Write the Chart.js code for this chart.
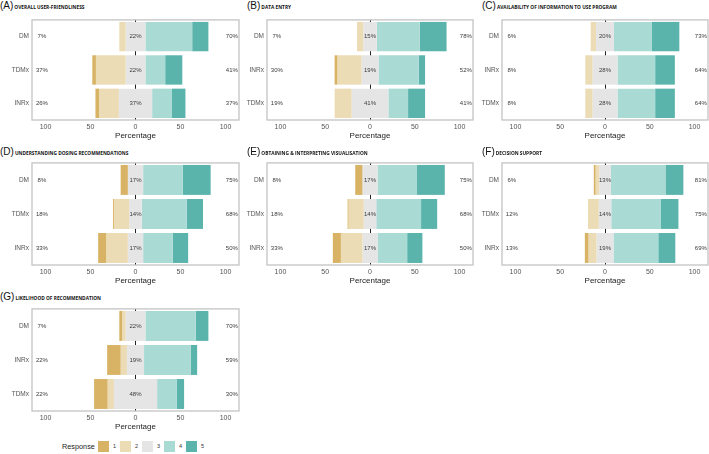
<!DOCTYPE html>
<html>
<head>
<meta charset="utf-8">
<script src="https://cdn.jsdelivr.net/npm/chart.js@4.4.1/dist/chart.umd.min.js"></script>
<style>
  body { margin: 0; background: #fff; }
  #fig { position: relative; width: 709px; height: 454px; background: #fff; overflow: hidden; font-family: "Liberation Sans", Arial, sans-serif; }
  .ttl { position: absolute; white-space: nowrap; line-height: 10px; color: #111; }
  .ttl .let { font-size: 10px; }
  .ttl .sub { font-family: "Open Sans", "Liberation Sans", sans-serif; font-weight: 700; font-size: 4.8px; margin-left: 1px; }
  .pan { position: absolute; }
  #legend { position: absolute; left: 62px; top: 440px; height: 12px; display: flex; align-items: center; font-size: 5.5px; color: #333; }
  #legend .hd { font-size: 7.3px; width: 36px; color: #222; }
  #legend .sw { width: 11px; height: 11px; margin-right: 4px; }
  #legend .lb { width: 7px; }
</style>
</head>
<body>
<div id="fig"></div>
<script>
// panel titles
const letters = ['(A)', '(B)', '(C)', '(D)', '(E)', '(F)', '(G)']
const subtitles = [
    'OVERALL USER-FRIENDLINESS',
    'DATA ENTRY',
    'AVAILABILITY OF INFORMATION TO USE  PROGRAM',
    'UNDERSTANDING DOSING RECOMMENDATIONS',
    'OBTAINING & INTERPRETING VISUALISATION',
    'DECISION SUPPORT',
    'LIKELIHOOD OF RECOMMENDATION'
]

// row labels per panel (top to bottom)
const rowsA = ['DM', 'TDMx', 'INRx']
const rowsB = ['DM', 'INRx', 'TDMx']
const rowsC = ['DM', 'INRx', 'TDMx']
const rowsD = ['DM', 'TDMx', 'INRx']
const rowsE = ['DM', 'TDMx', 'INRx']
const rowsF = ['DM', 'TDMx', 'INRx']
const rowsG = ['DM', 'INRx', 'TDMx']

// percentage of responses 1..5, one inner array per response level
const respA = [[0, 4, 4], [7, 33, 22], [22, 22, 37], [52, 22, 22], [18, 19, 15]]
const respB = [[0, 3, 0], [7, 27, 19], [15, 19, 41], [48, 45, 22], [30, 7, 19]]
const respC = [[0, 0, 0], [6, 8, 8], [20, 28, 28], [42, 42, 42], [31, 22, 22]]
const respD = [[8, 1, 9], [0, 17, 24], [17, 14, 17], [44, 50, 33], [31, 18, 17]]
const respE = [[8, 1, 9], [0, 17, 24], [17, 14, 17], [44, 50, 33], [31, 18, 17]]
const respF = [[2, 0, 4], [4, 12, 9], [13, 14, 19], [61, 55, 50], [20, 20, 19]]
const respG = [[3, 15, 15], [4, 7, 7], [22, 19, 48], [56, 52, 22], [14, 7, 8]]

const levels = ['1', '2', '3', '4', '5']
const xTicks = [-100, -50, 0, 50, 100]

const colors = ['#D8B365', '#ECDCB5', '#E5E5E5', '#A9DAD4', '#5AB4AC']

const panelRows = [rowsA, rowsB, rowsC, rowsD, rowsE, rowsF, rowsG]
const panelResp = [respA, respB, respC, respD, respE, respF, respG]

// layout
const colLeft = [0, 235, 470]
const colWidth = [240, 239, 239]
const titleLeft = [0, 247, 482]
const rowTitleY = [-1, 145, 290]
const rowBoxTop = [14, 157, 303]
const rowBoxH = [106, 108, 108]

const fig = document.getElementById('fig')
const FONT = '"Liberation Sans", Arial, sans-serif'

const frame = {
    id: 'frame',
    afterDraw(chart) {
        const a = chart.chartArea, c = chart.ctx
        c.save()
        c.strokeStyle = '#c4c4c4'
        c.lineWidth = 1.3
        c.strokeRect(a.left, a.top, a.right - a.left, a.bottom - a.top)
        c.restore()
    }
}

const pctLabels = {
    id: 'pctLabels',
    afterDatasetsDraw(chart, args, opts) {
        const r = opts.resp, c = chart.ctx
        if (!r) return
        const xs = chart.scales.x, ys = chart.scales.y
        c.save()
        c.font = '6px ' + FONT
        c.fillStyle = '#3a3a3a'
        c.textAlign = 'center'
        c.textBaseline = 'middle'
        chart.data.labels.forEach((lab, i) => {
            const y = ys.getPixelForValue(i)
            c.fillText((r[0][i] + r[1][i]) + '%', xs.getPixelForValue(-104), y)
            c.fillText(r[2][i] + '%', xs.getPixelForValue(0), y)
            c.fillText((r[3][i] + r[4][i]) + '%', xs.getPixelForValue(107), y)
        })
        c.restore()
    }
}

panelRows.forEach((rows, p) => {
    const col = p % 3, row = Math.floor(p / 3)
    const resp = panelResp[p]

    const t = document.createElement('div')
    t.className = 'ttl'
    t.style.left = titleLeft[col] + 'px'
    t.style.top = rowTitleY[row] + 'px'
    t.innerHTML = '<span class="let">' + letters[p] + '</span><span class="sub"></span>'
    t.querySelector('.sub').textContent = subtitles[p]
    fig.appendChild(t)

    const cv = document.createElement('canvas')
    cv.className = 'pan'
    cv.width = colWidth[col]
    cv.height = rowBoxH[row] + 25
    cv.style.left = colLeft[col] + 'px'
    cv.style.top = (rowBoxTop[row] - 1) + 'px'
    fig.appendChild(cv)

    // floating segments: neutral centred on zero, 1-2 to the left, 4-5 to the right
    const segs = rows.map((r, i) => {
        const h = resp[2][i] / 2
        const a2 = -h - resp[1][i], a1 = a2 - resp[0][i]
        const b4 = h + resp[3][i], b5 = b4 + resp[4][i]
        return [[a1, a2], [a2, -h], [-h, h], [h, b4], [b4, b5]]
    })
    const datasets = levels.map((l, k) => ({
        label: l,
        data: segs.map(s => s[k]),
        backgroundColor: colors[k],
        grouped: false,
        barPercentage: 0.88,
        categoryPercentage: 1,
        borderWidth: 0
    }))

    new Chart(cv, {
        type: 'bar',
        data: { labels: rows, datasets: datasets },
        options: {
            indexAxis: 'y',
            responsive: false,
            animation: false,
            devicePixelRatio: 1,
            layout: { padding: { top: 1, right: 1, left: 0, bottom: 0 } },
            plugins: {
                legend: { display: false },
                tooltip: { enabled: false },
                pctLabels: { resp: resp }
            },
            scales: {
                x: {
                    min: -115,
                    max: 115,
                    afterBuildTicks: s => { s.ticks = xTicks.map(v => ({ value: v })) },
                    afterFit: s => { s.height = 24 },
                    border: { display: false },
                    grid: {
                        drawTicks: false,
                        lineWidth: 1,
                        color: c => (c.tick && c.tick.value === 0) ? '#222' : 'rgba(0,0,0,0)'
                    },
                    ticks: {
                        padding: 3,
                        font: { family: FONT, size: 7 },
                        color: '#555',
                        maxRotation: 0,
                        callback: v => Math.abs(v)
                    },
                    title: {
                        display: true,
                        text: 'Percentage',
                        color: '#222',
                        font: { family: FONT, size: 8 },
                        padding: { top: 0, bottom: 3 }
                    }
                },
                y: {
                    afterFit: s => { s.width = 32 },
                    border: { display: false },
                    grid: { display: false, drawTicks: false },
                    ticks: { padding: 3, font: { family: FONT, size: 6.5 }, color: '#555' }
                }
            }
        },
        plugins: [frame, pctLabels]
    })
})

// shared legend
const lg = document.createElement('div')
lg.id = 'legend'
let html = '<span class="hd">Response</span>'
levels.forEach((l, i) => {
    html += '<span class="sw" style="background:' + colors[i] + '"></span><span class="lb">' + l + '</span>'
})
lg.innerHTML = html
fig.appendChild(lg)
</script>
</body>
</html>
